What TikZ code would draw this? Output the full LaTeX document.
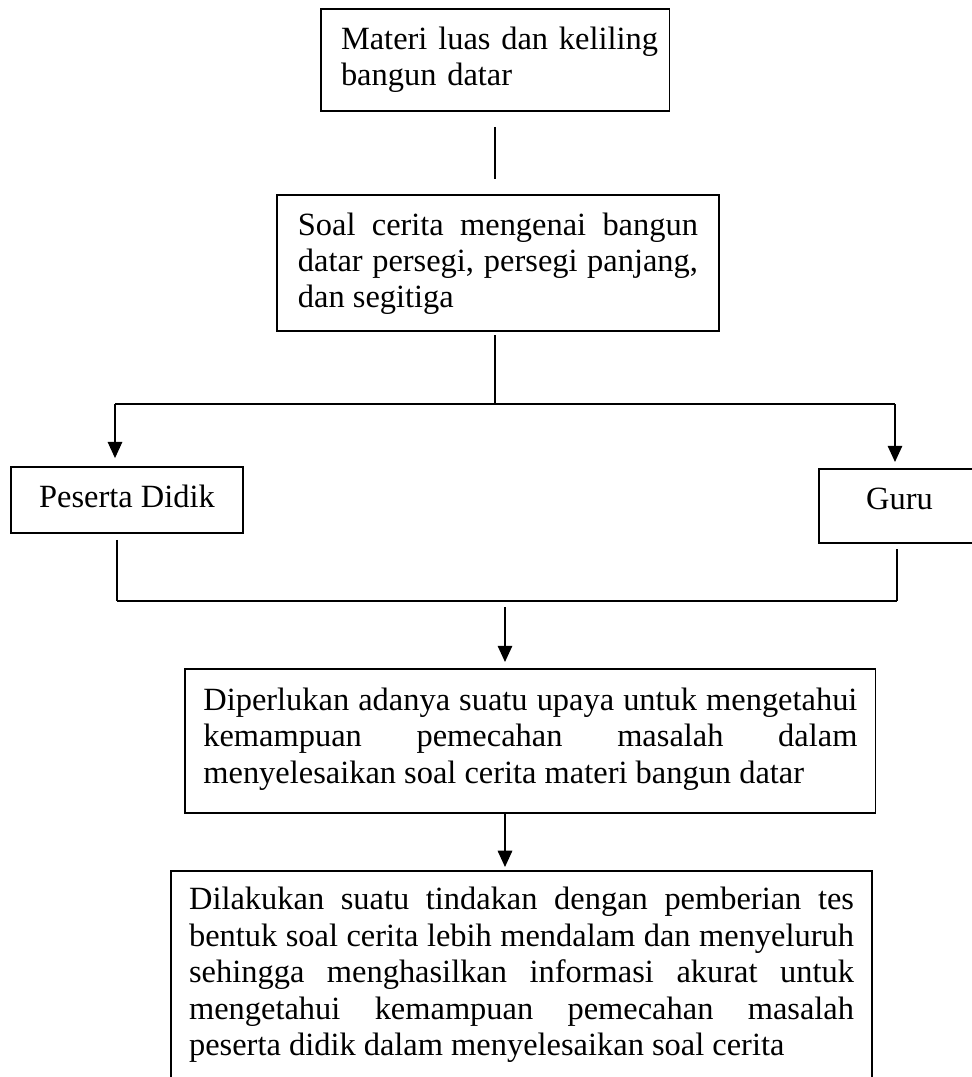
\documentclass[tikz,border=0pt]{standalone}
\usepackage{fontspec}
\setmainfont{Liberation Serif}
\usepackage{tikz}
\usetikzlibrary{arrows.meta}
\tolerance=9999
\hyphenpenalty=10000

\begin{document}
\begin{tikzpicture}[x=0.37pt,y=-0.37pt,line width=0.45pt,
  >={Triangle[length=6pt,width=5.4pt]},
  box/.style={draw,anchor=north west,inner ysep=0pt,outer sep=0pt,
    font=\fontsize{12pt}{13.5pt}\selectfont}]

% picture size
\useasboundingbox (0,0) rectangle (972,1077);
\clip (0,0) rectangle (972,1077);

% Draw the two upper boxes
\node[box,align=left,text width=114pt,inner xsep=7.4pt,text height=14.8pt,text depth=22.9pt] (materi) at (321,9) {\mbox{Materi luas dan keliling}\\bangun datar};
\node[box,align=justify,text width=148pt,inner xsep=7.75pt,text height=14.8pt,text depth=35.5pt] (soal) at (277,195) {Soal cerita mengenai bangun\linebreak datar persegi, persegi panjang,\linebreak dan segitiga};

% the two sides
\node[box,minimum width=85.8pt,inner xsep=0pt,text height=14.8pt,text depth=9.6pt] (peserta) at (11,467) {Peserta Didik};
\node[box,minimum width=59.6pt,inner xsep=0pt,text height=14.8pt,text depth=12.6pt] (guru) at (819,469) {Guru};

% lower boxes
\node[box,align=justify,text width=242pt,inner xsep=6.8pt,text height=15.2pt,text depth=38.1pt] (upaya) at (185,669) {Diperlukan adanya suatu upaya untuk mengetahui\linebreak kemampuan pemecahan masalah dalam\linebreak menyelesaikan soal cerita materi bangun datar};
\node[box,align=justify,text width=246pt,inner xsep=6.7pt,text height=14.4pt,text depth=66.6pt] (tindakan) at (171,871) {Dilakukan suatu tindakan dengan pemberian tes\linebreak bentuk soal cerita lebih mendalam dan menyeluruh\linebreak sehingga menghasilkan informasi akurat untuk\linebreak mengetahui kemampuan pemecahan masalah\linebreak peserta didik dalam menyelesaikan soal cerita};

% junction points of the connectors
\coordinate (fork) at (495,404);
\coordinate (forkL) at (115,404);
\coordinate (forkR) at (895,404);
\coordinate (joinL) at (117,601);
\coordinate (joinR) at (897,601);
\coordinate (joinM) at (505,601);

% line between the upper boxes
\draw[shorten <=5.9pt,shorten >=5.9pt] (materi.south) -- (materi.south |- soal.north);

% split down to both sides
\draw[shorten <=1.5pt] (fork |- soal.south) -- (fork);
\draw (forkL) -- (forkR);
\draw[->,shorten >=3.3pt] (forkL) -- (forkL |- peserta.north);
\draw[->,shorten >=2.6pt] (forkR) -- (forkR |- guru.north);

% join both sides again
\draw[shorten <=2.6pt] (joinL |- peserta.south) -- (joinL);
\draw[shorten <=2.2pt] (joinR |- guru.south) -- (joinR);
\draw (joinL) -- (joinR);

% arrows down to the lower boxes
\draw[->,shorten <=2.2pt,shorten >=2.6pt] (joinM) -- (joinM |- upaya.north);
\draw[->,shorten >=1.5pt] (joinM |- upaya.south) -- (joinM |- tindakan.north);

\end{tikzpicture}
\end{document}
